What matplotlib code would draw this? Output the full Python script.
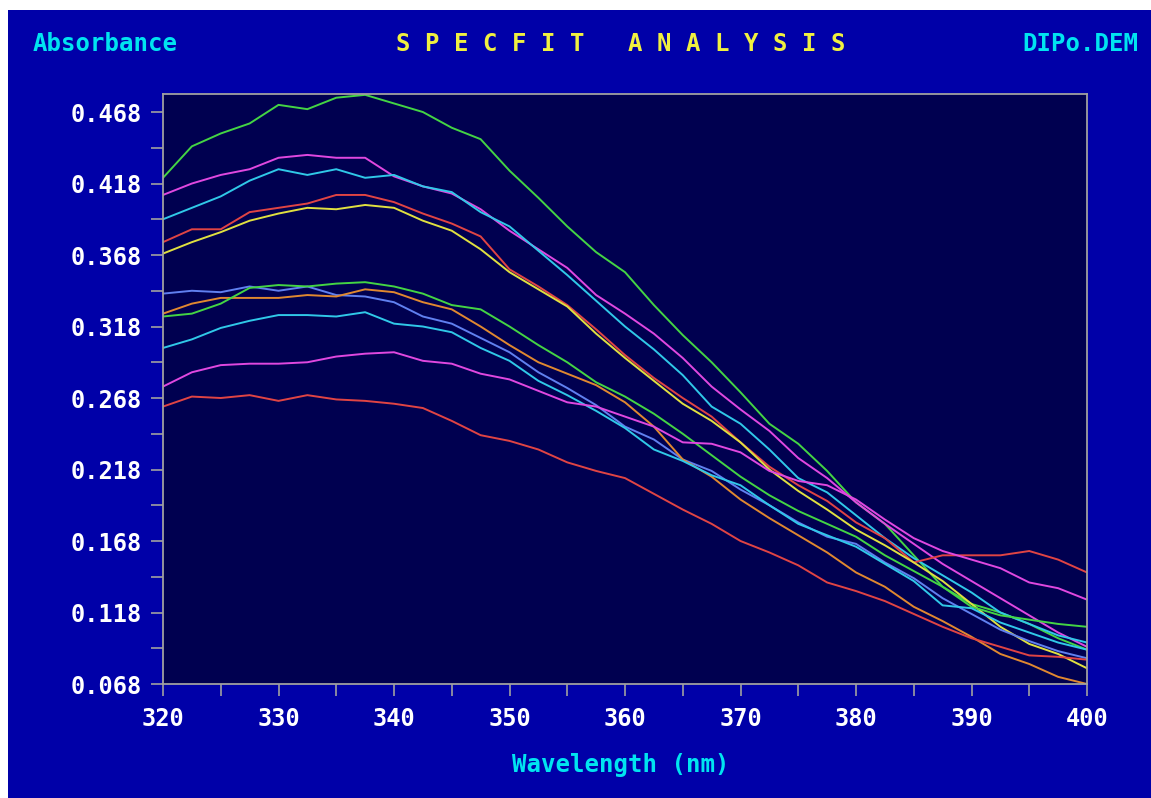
import numpy as np
import matplotlib
matplotlib.use("Agg")
import matplotlib.pyplot as plt
from matplotlib.patches import Rectangle
from matplotlib.ticker import MultipleLocator, FixedLocator

wavelength = np.arange(320, 400.01, 2.5)

green_1 = [0.422, 0.444, 0.453, 0.460, 0.473, 0.470, 0.478, 0.480, 0.474, 0.468, 0.457,
           0.449, 0.427, 0.408, 0.388, 0.370, 0.356, 0.333, 0.312, 0.293, 0.272, 0.250,
           0.236, 0.217, 0.195, 0.180, 0.158, 0.136, 0.124, 0.118, 0.110, 0.100, 0.092]
magenta_1 = [0.410, 0.418, 0.424, 0.428, 0.436, 0.438, 0.436, 0.436, 0.423, 0.416, 0.411,
             0.400, 0.385, 0.372, 0.359, 0.340, 0.327, 0.313, 0.296, 0.276, 0.260, 0.245,
             0.226, 0.212, 0.195, 0.180, 0.166, 0.152, 0.140, 0.128, 0.116, 0.104, 0.094]
cyan_1 = [0.393, 0.401, 0.409, 0.420, 0.428, 0.424, 0.428, 0.422, 0.424, 0.416, 0.412,
          0.398, 0.388, 0.371, 0.354, 0.336, 0.318, 0.302, 0.284, 0.262, 0.250, 0.232,
          0.212, 0.202, 0.186, 0.170, 0.156, 0.144, 0.132, 0.118, 0.110, 0.102, 0.097]
red_1 = [0.377, 0.386, 0.386, 0.398, 0.401, 0.404, 0.410, 0.410, 0.405, 0.397, 0.390,
         0.381, 0.358, 0.346, 0.333, 0.316, 0.298, 0.282, 0.268, 0.255, 0.237, 0.220,
         0.207, 0.196, 0.181, 0.170, 0.153, 0.158, 0.158, 0.158, 0.161, 0.155, 0.146]
yellow_1 = [0.369, 0.377, 0.384, 0.392, 0.397, 0.401, 0.400, 0.403, 0.401, 0.392, 0.385,
            0.372, 0.356, 0.344, 0.332, 0.313, 0.296, 0.280, 0.264, 0.252, 0.237, 0.218,
            0.203, 0.190, 0.176, 0.165, 0.153, 0.140, 0.124, 0.108, 0.096, 0.089, 0.079]
blue_1 = [0.341, 0.343, 0.342, 0.346, 0.343, 0.346, 0.340, 0.339, 0.335, 0.325, 0.320,
          0.310, 0.300, 0.286, 0.275, 0.263, 0.248, 0.239, 0.225, 0.217, 0.204, 0.193,
          0.181, 0.171, 0.166, 0.153, 0.142, 0.128, 0.117, 0.106, 0.098, 0.091, 0.086]
orange_1 = [0.327, 0.334, 0.338, 0.338, 0.338, 0.340, 0.339, 0.344, 0.342, 0.335, 0.330,
            0.318, 0.305, 0.293, 0.285, 0.277, 0.265, 0.248, 0.225, 0.213, 0.197, 0.184,
            0.172, 0.160, 0.146, 0.136, 0.122, 0.112, 0.101, 0.089, 0.082, 0.073, 0.068]
green_2 = [0.325, 0.327, 0.334, 0.345, 0.347, 0.346, 0.348, 0.349, 0.346, 0.341, 0.333,
           0.330, 0.318, 0.305, 0.293, 0.279, 0.269, 0.257, 0.243, 0.228, 0.213, 0.200,
           0.189, 0.180, 0.171, 0.158, 0.147, 0.136, 0.122, 0.116, 0.113, 0.110, 0.108]
cyan_2 = [0.303, 0.309, 0.317, 0.322, 0.326, 0.326, 0.325, 0.328, 0.320, 0.318, 0.314,
          0.303, 0.294, 0.280, 0.270, 0.259, 0.247, 0.232, 0.224, 0.214, 0.207, 0.193,
          0.180, 0.172, 0.164, 0.152, 0.140, 0.123, 0.121, 0.111, 0.104, 0.097, 0.092]
magenta_2 = [0.276, 0.286, 0.291, 0.292, 0.292, 0.293, 0.297, 0.299, 0.300, 0.294, 0.292,
             0.285, 0.281, 0.273, 0.265, 0.262, 0.255, 0.248, 0.237, 0.236, 0.230, 0.217,
             0.210, 0.207, 0.197, 0.183, 0.170, 0.161, 0.155, 0.149, 0.139, 0.135, 0.127]
red_2 = [0.262, 0.269, 0.268, 0.270, 0.266, 0.270, 0.267, 0.266, 0.264, 0.261, 0.252,
         0.242, 0.238, 0.232, 0.223, 0.217, 0.212, 0.201, 0.190, 0.180, 0.168, 0.160,
         0.151, 0.139, 0.133, 0.126, 0.117, 0.108, 0.100, 0.094, 0.088, 0.087, 0.085]

series = [
    (green_1, "#44d444"), (magenta_1, "#e048e0"), (cyan_1, "#30c8e8"),
    (red_1, "#e04444"), (yellow_1, "#e0e040"), (blue_1, "#6080f0"),
    (orange_1, "#e08830"), (green_2, "#44d444"), (cyan_2, "#30c8e8"),
    (magenta_2, "#e048e0"), (red_2, "#e04444"),
]

y_ticks = [0.068, 0.118, 0.168, 0.218, 0.268, 0.318, 0.368, 0.418, 0.468]
x_ticks = [320, 330, 340, 350, 360, 370, 380, 390, 400]

W, H = 1151, 798
fig = plt.figure(figsize=(W / 100, H / 100), dpi=100, facecolor="white")
fig.patches.append(Rectangle((8 / W, 0), 1 - 8 / W, 1 - 10 / H, transform=fig.transFigure,
                             facecolor="#0000a8", edgecolor="none", zorder=-10))

ax = fig.add_axes([163 / W, 114 / H, 924 / W, 590 / H])
ax.set_facecolor("#000050")
for data, col in series:
    ax.plot(wavelength, data, color=col, lw=1.4)

ax.set_xlim(320, 400)
ax.set_ylim(0.068, 0.4806)
ax.xaxis.set_major_locator(FixedLocator(x_ticks))
ax.xaxis.set_minor_locator(MultipleLocator(5))
ax.yaxis.set_major_locator(FixedLocator(y_ticks))
ax.yaxis.set_minor_locator(FixedLocator([v + 0.025 for v in y_ticks]))
ax.set_yticklabels([f"{v:.3f}" for v in y_ticks])
ax.set_xticklabels([str(v) for v in x_ticks])

mono = "DejaVu Sans Mono"
for lab in ax.get_xticklabels() + ax.get_yticklabels():
    lab.set_fontfamily(mono)
    lab.set_fontweight("bold")
    lab.set_fontsize(17)
    lab.set_color("white")

for which in ("major", "minor"):
    ax.tick_params(axis="both", which=which, direction="out", length=8.5, width=1.2,
                   color="#a0a0a0")
ax.tick_params(axis="x", which="major", pad=8)
ax.tick_params(axis="y", which="major", pad=7)
for s in ax.spines.values():
    s.set_color("#a0a0a0")
    s.set_linewidth(1.3)

fs = 17.3
fig.text(33 / W, 1 - 44 / H, "Absorbance", color="#00e4f0", fontfamily=mono,
         fontweight="bold", fontsize=fs, ha="left", va="center")
fig.text(621 / W, 1 - 44 / H, "S P E C F I T   A N A L Y S I S", color="#f0f040",
         fontfamily=mono, fontweight="bold", fontsize=fs, ha="center", va="center")
fig.text(1138 / W, 1 - 44 / H, "DIPo.DEM", color="#00e4f0", fontfamily=mono,
         fontweight="bold", fontsize=fs, ha="right", va="center")
fig.text(621 / W, 1 - 765 / H, "Wavelength (nm)", color="#00e4f0", fontfamily=mono,
         fontweight="bold", fontsize=fs, ha="center", va="center")

fig.savefig("out.png", dpi=100, facecolor=fig.get_facecolor())
